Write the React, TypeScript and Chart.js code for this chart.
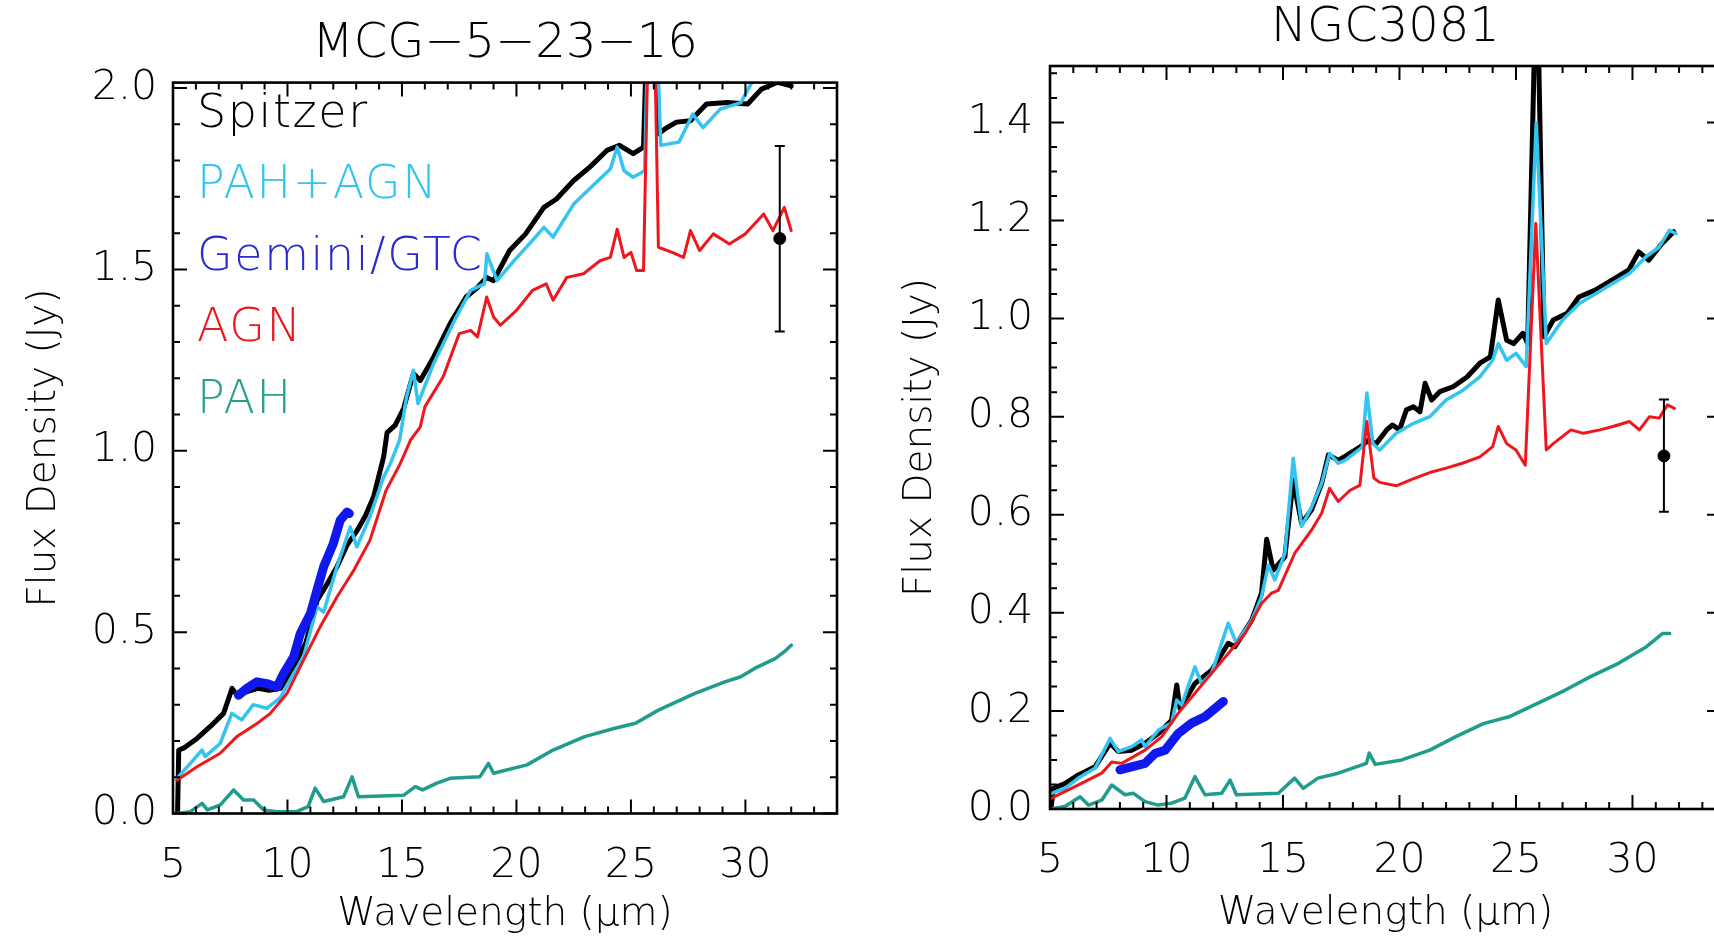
import React, { useEffect, useRef } from "react";
import { Chart, registerables } from "chart.js";

Chart.register(...registerables);

// ---------------- Panel titles, axis titles, ticks ----------------
const leftTitle = "MCG\u22125\u221223\u221216";
const rightTitle = "NGC3081";
const xAxisTitle = "Wavelength (\u03bcm)";
const yAxisTitle = "Flux Density (Jy)";
const xTickValues = [5, 10, 15, 20, 25, 30];
const leftYTickValues = [0, 0.5, 1.0, 1.5, 2.0];
const rightYTickValues = [0, 0.2, 0.4, 0.6, 0.8, 1.0, 1.2, 1.4];
const legendLabels = ["Spitzer", "PAH+AGN", "Gemini/GTC", "AGN", "PAH"];

// ---------------- MCG-5-23-16 (left panel) ----------------
const mcgSpitzerWl = [5.2, 5.25, 5.46, 6.05, 6.63, 7.21, 7.58, 7.8, 8.2, 8.7, 9.2, 9.7, 10.3, 10.8, 11.3, 11.8, 12.16, 12.6, 13.04, 13.4, 13.76, 14.2, 14.35, 14.7, 15.07, 15.5, 15.8, 16.38, 17.1, 17.8, 18.3, 18.7, 19.0, 19.7, 20.4, 21.2, 21.75, 22.5, 23.2, 23.95, 24.5, 25.1, 25.55, 25.9, 26.2, 26.5, 26.99, 27.6, 28.3, 29.2, 30.1, 30.7, 31.4, 32.0];
const mcgSpitzerFlux = [0.0, 0.175, 0.18, 0.207, 0.24, 0.276, 0.345, 0.326, 0.335, 0.345, 0.34, 0.345, 0.41, 0.47, 0.588, 0.64, 0.68, 0.74, 0.78, 0.82, 0.873, 0.983, 1.05, 1.07, 1.116, 1.213, 1.194, 1.258, 1.35, 1.424, 1.45, 1.478, 1.469, 1.552, 1.598, 1.671, 1.694, 1.745, 1.782, 1.828, 1.842, 1.819, 1.837, 2.6, 1.874, 1.888, 1.906, 1.91, 1.956, 1.96, 1.956, 1.997, 2.016, 2.006];

const mcgModelWl = [5.17, 5.76, 6.27, 6.4, 7.06, 7.57, 8.0, 8.5, 9.1, 9.7, 10.27, 10.7, 11.29, 11.58, 12.16, 12.74, 13.03, 13.6, 14.2, 14.5, 14.9, 15.2, 15.5, 15.7, 16.38, 17.3, 18.0, 18.6, 18.71, 19.15, 19.9, 20.7, 21.2, 21.6, 22.5, 23.4, 24.1, 24.4, 24.7, 25.1, 25.6, 25.9, 26.3, 27.1, 27.7, 28.15, 28.9, 29.8, 30.4, 30.8, 31.5, 32.0];
const mcgModelFlux = [0.097, 0.138, 0.175, 0.157, 0.193, 0.276, 0.258, 0.3, 0.29, 0.32, 0.386, 0.432, 0.57, 0.555, 0.68, 0.79, 0.735, 0.818, 0.928, 0.965, 1.03, 1.148, 1.222, 1.13, 1.24, 1.36, 1.442, 1.46, 1.543, 1.469, 1.524, 1.58, 1.616, 1.589, 1.68, 1.735, 1.777, 1.837, 1.772, 1.754, 1.772, 2.6, 1.842, 1.851, 1.928, 1.891, 1.942, 1.96, 2.03, 2.04, 2.07, 2.09];

const mcgAgnWl = [5.17, 6.05, 7.06, 7.79, 8.67, 9.25, 9.98, 10.7, 11.43, 12.16, 12.89, 13.6, 14.3, 14.93, 15.37, 15.8, 16.0, 16.8, 17.5, 18.0, 18.3, 18.7, 19.0, 19.3, 20.0, 20.7, 21.3, 21.6, 22.2, 22.93, 23.65, 24.1, 24.4, 24.7, 25.0, 25.25, 25.55, 25.9, 26.2, 26.8, 27.3, 27.6, 28.0, 28.6, 29.3, 30.0, 30.8, 31.2, 31.7, 32.0];
const mcgAgnFlux = [0.092, 0.129, 0.166, 0.212, 0.248, 0.276, 0.331, 0.423, 0.515, 0.597, 0.67, 0.753, 0.89, 0.965, 1.029, 1.066, 1.121, 1.204, 1.323, 1.332, 1.314, 1.424, 1.369, 1.346, 1.387, 1.442, 1.46, 1.415, 1.478, 1.488, 1.524, 1.533, 1.611, 1.533, 1.547, 1.497, 1.497, 2.6, 1.561, 1.547, 1.533, 1.607, 1.552, 1.598, 1.57, 1.598, 1.653, 1.607, 1.671, 1.607];

const mcgGeminiWl = [7.86, 8.23, 8.67, 9.1, 9.54, 9.83, 10.27, 10.56, 11.0, 11.29, 11.58, 12.0, 12.3, 12.6, 12.7];
const mcgGeminiFlux = [0.326, 0.345, 0.363, 0.358, 0.349, 0.386, 0.432, 0.496, 0.551, 0.616, 0.68, 0.744, 0.808, 0.831, 0.827];

const mcgPahWl = [5.17, 5.75, 6.27, 6.5, 7.07, 7.65, 8.08, 8.52, 8.96, 9.54, 10.4, 10.9, 11.21, 11.58, 12.45, 12.82, 13.1, 15.07, 15.58, 15.9, 16.5, 17.1, 18.4, 18.78, 19.0, 20.46, 21.6, 22.98, 24.3, 25.2, 26.2, 27.8, 29.1, 29.8, 30.4, 31.3, 31.7, 32.0];
const mcgPahFlux = [0.0, 0.005, 0.028, 0.01, 0.024, 0.065, 0.037, 0.037, 0.01, 0.005, 0.005, 0.019, 0.07, 0.033, 0.046, 0.101, 0.046, 0.05, 0.074, 0.065, 0.083, 0.097, 0.101, 0.138, 0.111, 0.134, 0.175, 0.212, 0.235, 0.249, 0.285, 0.331, 0.363, 0.377, 0.4, 0.427, 0.446, 0.464];

const mcgPointWl = [31.5];
const mcgPointFlux = [1.585];
const mcgPointLow = [1.329];
const mcgPointHigh = [1.84];

// ---------------- NGC3081 (right panel) ----------------
const ngcSpitzerWl = [5.04, 5.14, 5.64, 6.2, 6.93, 7.58, 7.93, 8.5, 9.08, 9.65, 10.22, 10.44, 10.58, 11.22, 11.94, 12.65, 12.94, 13.66, 14.08, 14.3, 14.58, 15.08, 15.44, 15.8, 16.23, 16.66, 16.95, 17.37, 17.73, 18.3, 18.66, 19.0, 19.45, 19.7, 20.0, 20.3, 20.6, 20.88, 21.1, 21.38, 21.73, 22.3, 22.9, 23.45, 23.9, 24.24, 24.6, 24.9, 25.3, 25.5, 25.89, 26.2, 26.6, 27.2, 27.7, 28.4, 29.1, 29.84, 30.27, 30.7, 31.27, 31.77];
const ngcSpitzerFlux = [0.0, 0.042, 0.052, 0.069, 0.086, 0.134, 0.117, 0.12, 0.134, 0.154, 0.181, 0.253, 0.205, 0.256, 0.283, 0.338, 0.331, 0.385, 0.44, 0.55, 0.487, 0.514, 0.671, 0.582, 0.61, 0.664, 0.722, 0.711, 0.721, 0.738, 0.752, 0.745, 0.773, 0.783, 0.773, 0.814, 0.82, 0.81, 0.868, 0.834, 0.851, 0.861, 0.881, 0.909, 0.922, 1.038, 0.956, 0.949, 0.97, 0.949, 1.75, 0.963, 0.997, 1.011, 1.044, 1.058, 1.078, 1.099, 1.136, 1.119, 1.153, 1.177];

const ngcModelWl = [5.07, 5.64, 6.22, 6.93, 7.58, 7.93, 8.5, 8.93, 9.08, 9.65, 10.22, 10.44, 10.65, 11.22, 11.5, 11.94, 12.65, 13.0, 13.66, 14.08, 14.37, 14.65, 15.08, 15.44, 15.8, 16.23, 16.66, 17.0, 17.37, 17.66, 18.4, 18.6, 18.86, 19.15, 19.86, 20.58, 21.3, 22.0, 22.73, 23.45, 24.0, 24.24, 24.6, 25.0, 25.44, 25.87, 26.3, 27.0, 27.73, 28.44, 29.16, 29.87, 30.58, 31.15, 31.58, 31.87];
const ngcModelFlux = [0.032, 0.042, 0.063, 0.083, 0.144, 0.117, 0.127, 0.141, 0.127, 0.161, 0.175, 0.222, 0.212, 0.29, 0.256, 0.277, 0.379, 0.338, 0.385, 0.433, 0.497, 0.467, 0.521, 0.715, 0.576, 0.616, 0.664, 0.725, 0.705, 0.711, 0.738, 0.848, 0.745, 0.732, 0.766, 0.786, 0.8, 0.834, 0.854, 0.881, 0.915, 0.949, 0.915, 0.929, 0.902, 1.4, 0.949, 0.997, 1.031, 1.051, 1.072, 1.092, 1.126, 1.146, 1.18, 1.173];

const ngcAgnWl = [5.07, 6.22, 7.22, 7.65, 8.08, 9.08, 9.79, 10.5, 11.22, 11.94, 12.65, 13.37, 14.08, 14.5, 14.8, 15.5, 16.23, 16.66, 17.0, 17.37, 17.88, 18.3, 18.6, 18.9, 19.15, 19.86, 20.58, 21.3, 22.0, 22.7, 23.45, 24.0, 24.24, 24.6, 25.0, 25.4, 25.85, 26.3, 26.6, 27.36, 27.9, 28.6, 29.16, 29.87, 30.3, 30.73, 31.15, 31.5, 31.8];
const ngcAgnFlux = [0.022, 0.049, 0.073, 0.096, 0.093, 0.12, 0.147, 0.195, 0.236, 0.277, 0.317, 0.358, 0.419, 0.44, 0.446, 0.521, 0.569, 0.603, 0.654, 0.627, 0.65, 0.66, 0.79, 0.675, 0.666, 0.659, 0.673, 0.686, 0.695, 0.705, 0.718, 0.739, 0.78, 0.745, 0.732, 0.701, 1.194, 0.732, 0.745, 0.773, 0.766, 0.773, 0.78, 0.79, 0.773, 0.8, 0.797, 0.824, 0.817];

const ngcGeminiWl = [8.0, 8.5, 9.08, 9.5, 9.94, 10.5, 11.08, 11.65, 12.08, 12.44];
const ngcGeminiFlux = [0.08, 0.086, 0.093, 0.113, 0.12, 0.154, 0.175, 0.188, 0.205, 0.219];

const ngcPahWl = [5.07, 5.64, 6.29, 6.65, 7.22, 7.65, 8.22, 8.58, 9.08, 9.65, 10.22, 10.79, 11.22, 11.65, 12.37, 12.73, 13.0, 14.8, 15.5, 15.87, 16.5, 17.37, 18.58, 18.7, 18.96, 20.1, 21.3, 22.4, 23.6, 24.7, 25.9, 27.1, 28.2, 29.4, 30.6, 31.3, 31.6];
const ngcPahFlux = [0.0, 0.005, 0.025, 0.008, 0.018, 0.049, 0.029, 0.032, 0.015, 0.008, 0.012, 0.022, 0.066, 0.029, 0.032, 0.059, 0.029, 0.032, 0.063, 0.042, 0.063, 0.073, 0.093, 0.114, 0.091, 0.1, 0.12, 0.147, 0.174, 0.188, 0.215, 0.242, 0.27, 0.297, 0.331, 0.358, 0.358];

const ngcPointWl = [31.35];
const ngcPointFlux = [0.72];
const ngcPointLow = [0.606];
const ngcPointHigh = [0.835];

// ---------------- styles ----------------
const FONT = '"DejaVu Sans", "Liberation Sans", sans-serif';
const COL_SPITZER = "#000000";
const COL_MODEL = "#33c4f2";
const COL_GEMINI = "#1018f0";
const COL_AGN = "#f0161e";
const COL_PAH = "#1f9c8c";
const legendColors = [COL_SPITZER, COL_MODEL, "#2a2ad0", COL_AGN, "#2a9e8e"];

const pts = (x: number[], y: number[]) => x.map((v, i) => ({ x: v, y: y[i] }));

const framePlugin = {
  id: "frameTicks",
  afterDatasetsDraw(chart: any, _a: any, opts: any) {
    const { ctx, chartArea: ca, scales } = chart;
    const xs = scales.x;
    const ys = scales.y;
    ctx.save();
    ctx.strokeStyle = "#000";
    ctx.lineWidth = 2;
    const MAJ = 14;
    const MIN = 7;
    const nx = Math.round((xs.max - xs.min) / opts.xMinor);
    for (let i = 0; i <= nx; i++) {
      const v = xs.min + i * opts.xMinor;
      if (v > xs.max + 1e-9) break;
      const major = Math.abs(v / opts.xMajor - Math.round(v / opts.xMajor)) < 1e-6;
      const len = major ? MAJ : MIN;
      const px = xs.getPixelForValue(v);
      ctx.beginPath();
      ctx.moveTo(px, ca.bottom);
      ctx.lineTo(px, ca.bottom - len);
      ctx.moveTo(px, ca.top);
      ctx.lineTo(px, ca.top + len);
      ctx.stroke();
    }
    const ny = Math.round((ys.max - ys.min) / opts.yMinor);
    for (let i = 0; i <= ny; i++) {
      const v = ys.min + i * opts.yMinor;
      if (v > ys.max + 1e-9) break;
      const major = Math.abs(v / opts.yMajor - Math.round(v / opts.yMajor)) < 1e-6;
      const len = major ? MAJ : MIN;
      const py = ys.getPixelForValue(v);
      ctx.beginPath();
      ctx.moveTo(ca.left, py);
      ctx.lineTo(ca.left + len, py);
      ctx.moveTo(ca.right, py);
      ctx.lineTo(ca.right - len, py);
      ctx.stroke();
    }
    ctx.lineWidth = 2.6;
    ctx.strokeRect(ca.left, ca.top, ca.right - ca.left, ca.bottom - ca.top);
    ctx.restore();
  },
};

const errorBarPlugin = {
  id: "errBars",
  afterDatasetsDraw(chart: any, _a: any, opts: any) {
    if (!opts || !opts.x) return;
    const { ctx, scales } = chart;
    ctx.save();
    ctx.strokeStyle = "#000";
    ctx.lineWidth = 2;
    for (let i = 0; i < opts.x.length; i++) {
      const px = scales.x.getPixelForValue(opts.x[i]);
      const lo = scales.y.getPixelForValue(opts.lo[i]);
      const hi = scales.y.getPixelForValue(opts.hi[i]);
      ctx.beginPath();
      ctx.moveTo(px, lo);
      ctx.lineTo(px, hi);
      ctx.moveTo(px - 5, lo);
      ctx.lineTo(px + 5, lo);
      ctx.moveTo(px - 5, hi);
      ctx.lineTo(px + 5, hi);
      ctx.stroke();
    }
    ctx.restore();
  },
};

const legendPlugin = {
  id: "textLegend",
  afterDatasetsDraw(chart: any, _a: any, opts: any) {
    if (!opts || !opts.show) return;
    const { ctx, chartArea: ca } = chart;
    ctx.save();
    ctx.font = `200 46px ${FONT}`;
    try {
      (ctx as any).letterSpacing = "1.6px";
    } catch (e) {
      /* ignore */
    }
    ctx.textAlign = "left";
    ctx.textBaseline = "alphabetic";
    legendLabels.forEach((t, i) => {
      ctx.fillStyle = legendColors[i];
      ctx.fillText(t, ca.left + 24, ca.top + 44 + i * 71.5);
    });
    ctx.restore();
  },
};

type PanelSpec = {
  title: string;
  xMax: number;
  yMax: number;
  yTicks: number[];
  yMajor: number;
  yMinor: number;
  yAxisW: number;
  xAxisH: number;
  padRight: number;
  titlePadTop: number;
  titlePadBottom: number;
  yTitlePad: number;
  xTitlePad: number;
  xTickPad: number;
  yTickPad: number;
  legend: boolean;
  spitzer: any[];
  model: any[];
  agn: any[];
  gemini: any[];
  pah: any[];
  point: any[];
  err: { x: number[]; lo: number[]; hi: number[] };
};

function lineDs(label: string, data: any[], color: string, width: number, order: number) {
  return {
    label,
    data,
    borderColor: color,
    backgroundColor: color,
    borderWidth: width,
    pointRadius: 0,
    fill: false,
    tension: 0,
    borderJoinStyle: "round",
    borderCapStyle: "round",
    clip: 0,
    order,
  };
}

function makeConfig(p: PanelSpec): any {
  const tickFont = { family: FONT, size: 41, weight: "200" };
  const titleFont = { family: FONT, size: 39, weight: "200" };
  return {
    type: "line",
    data: {
      datasets: [
        lineDs("Spitzer", p.spitzer, COL_SPITZER, 5, 6),
        lineDs("PAH+AGN", p.model, COL_MODEL, 3.5, 5),
        lineDs("AGN", p.agn, COL_AGN, 3, 4),
        lineDs("PAH", p.pah, COL_PAH, 3.5, 3),
        lineDs("Gemini/GTC", p.gemini, COL_GEMINI, 9, 2),
        {
          label: "photometry",
          data: p.point,
          showLine: false,
          pointRadius: 6,
          pointBackgroundColor: "#000",
          pointBorderColor: "#000",
          order: 1,
          clip: false,
        },
      ],
    },
    options: {
      responsive: false,
      animation: false,
      devicePixelRatio: 1,
      events: [],
      layout: { padding: { left: 0, right: p.padRight, top: 0, bottom: 0 } },
      plugins: {
        legend: { display: false },
        tooltip: { enabled: false },
        title: {
          display: true,
          text: p.title,
          fullSize: false,
          color: "#000",
          font: { family: FONT, size: 48, weight: "200", lineHeight: 1.2 },
          padding: { top: p.titlePadTop, bottom: p.titlePadBottom },
        },
        frameTicks: { xMinor: 1, xMajor: 5, yMinor: p.yMinor, yMajor: p.yMajor },
        errBars: p.err,
        textLegend: { show: p.legend },
      },
      scales: {
        x: {
          type: "linear",
          min: 5,
          max: p.xMax,
          afterBuildTicks: (s: any) => {
            s.ticks = xTickValues.map((v) => ({ value: v }));
          },
          afterFit: (s: any) => {
            s.height = p.xAxisH;
          },
          grid: { display: false, drawTicks: false },
          border: { display: false },
          ticks: {
            color: "#000",
            font: tickFont,
            padding: p.xTickPad,
            maxRotation: 0,
            autoSkip: false,
            callback: (v: any) => String(v),
          },
          title: {
            display: true,
            text: xAxisTitle,
            color: "#000",
            font: titleFont,
            padding: { top: 0, bottom: p.xTitlePad },
          },
        },
        y: {
          type: "linear",
          min: 0,
          max: p.yMax,
          afterBuildTicks: (s: any) => {
            s.ticks = p.yTicks.map((v) => ({ value: v }));
          },
          afterFit: (s: any) => {
            s.width = p.yAxisW;
          },
          grid: { display: false, drawTicks: false },
          border: { display: false },
          ticks: {
            color: "#000",
            font: tickFont,
            padding: p.yTickPad,
            autoSkip: false,
            callback: (v: any) => Number(v).toFixed(1),
          },
          title: {
            display: true,
            text: yAxisTitle,
            color: "#000",
            font: titleFont,
            padding: { top: p.yTitlePad, bottom: 0 },
          },
        },
      },
    },
    plugins: [framePlugin, errorBarPlugin, legendPlugin],
  };
}

const leftSpec: PanelSpec = {
  title: leftTitle,
  xMax: 34,
  yMax: 2.015,
  yTicks: leftYTickValues,
  yMajor: 0.5,
  yMinor: 0.1,
  yAxisW: 173,
  xAxisH: 127.5,
  padRight: 23,
  titlePadTop: 16,
  titlePadBottom: 9,
  yTitlePad: 21,
  xTitlePad: 3,
  xTickPad: 28,
  yTickPad: 16,
  legend: true,
  spitzer: pts(mcgSpitzerWl, mcgSpitzerFlux),
  model: pts(mcgModelWl, mcgModelFlux),
  agn: pts(mcgAgnWl, mcgAgnFlux),
  gemini: pts(mcgGeminiWl, mcgGeminiFlux),
  pah: pts(mcgPahWl, mcgPahFlux),
  point: pts(mcgPointWl, mcgPointFlux),
  err: { x: mcgPointWl, lo: mcgPointLow, hi: mcgPointHigh },
};

const rightSpec: PanelSpec = {
  title: rightTitle,
  xMax: 33.8,
  yMax: 1.515,
  yTicks: rightYTickValues,
  yMajor: 0.2,
  yMinor: 0.05,
  yAxisW: 190,
  xAxisH: 132,
  padRight: 19,
  titlePadTop: 0,
  titlePadBottom: 8.4,
  yTitlePad: 37,
  xTitlePad: 4,
  xTickPad: 28,
  yTickPad: 17,
  legend: false,
  spitzer: pts(ngcSpitzerWl, ngcSpitzerFlux),
  model: pts(ngcModelWl, ngcModelFlux),
  agn: pts(ngcAgnWl, ngcAgnFlux),
  gemini: pts(ngcGeminiWl, ngcGeminiFlux),
  pah: pts(ngcPahWl, ngcPahFlux),
  point: pts(ngcPointWl, ngcPointFlux),
  err: { x: ngcPointWl, lo: ngcPointLow, hi: ngcPointHigh },
};

export default function App() {
  const leftRef = useRef<HTMLCanvasElement | null>(null);
  const rightRef = useRef<HTMLCanvasElement | null>(null);

  useEffect(() => {
    const charts: Chart[] = [];
    if (leftRef.current) charts.push(new Chart(leftRef.current, makeConfig(leftSpec)));
    if (rightRef.current) charts.push(new Chart(rightRef.current, makeConfig(rightSpec)));
    return () => {
      charts.forEach((c) => c.destroy());
    };
  }, []);

  return (
    <div
      style={{
        position: "fixed",
        left: 0,
        top: 0,
        width: 1714,
        height: 941,
        overflow: "hidden",
        background: "#ffffff",
      }}
    >
      <canvas ref={leftRef} width={860} height={941} style={{ position: "absolute", left: 0, top: 0 }} />
      <canvas ref={rightRef} width={880} height={941} style={{ position: "absolute", left: 860, top: 0 }} />
    </div>
  );
}
